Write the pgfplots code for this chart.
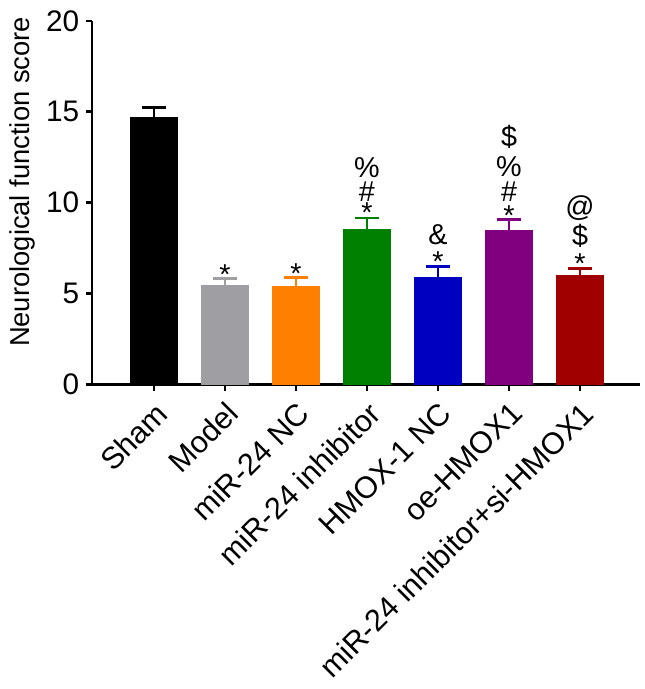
\documentclass[border=0pt]{standalone}
\usepackage{pgfplots}
\pgfplotsset{compat=1.18}
\usepackage{fontspec}
\setmainfont{Liberation Sans}
\definecolor{cgray}{RGB}{158,158,163}
\definecolor{corange}{RGB}{255,128,0}
\definecolor{cgreen}{RGB}{0,128,0}
\definecolor{cblue}{RGB}{0,0,192}
\definecolor{cpurple}{RGB}{128,0,128}
\definecolor{cred}{RGB}{160,0,0}
\pgfplotsset{mybar/.style={fill=#1, draw=#1,
  error bars/error bar style={line width=1.2pt, #1},
  error bars/error mark options={rotate=90, mark size=6pt, line width=1.3pt, #1}}}
\newcommand{\fsx}{\fontsize{15.4}{17}\selectfont}
\newcommand{\fsy}{\fontsize{15}{17}\selectfont}
\newcommand{\fsl}{\fontsize{13.8}{16}\selectfont}
\newcommand{\fsa}{\fontsize{14.5}{16}\selectfont}
\begin{document}
\begin{tikzpicture}
\begin{axis}[
  scale only axis, width=276.5pt, height=183.5pt,
  xmin=-0.87, xmax=6.85, ymin=0, ymax=20,
  axis lines=left, axis line style={line width=1.3pt, -},
  xtick={0,...,6},
  xticklabels={Sham, Model, miR-24 NC, miR-24 inhibitor, HMOX-1 NC, oe-HMOX1, miR-24 inhibitor+si-HMOX1},
  x tick label style={rotate=45, anchor=north east, font=\fsx},
  ytick={0,5,...,20},
  y tick label style={font=\fsy},
  /pgf/number format/assume math mode=true,
  tick style={line width=1.3pt, black}, tick align=outside, major tick length=3pt,
  ylabel={Neurological function score},
  ylabel style={font=\fsl, at={(axis description cs:-0.127,0.557)}, rotate=0, anchor=center},
  ybar, bar width=23.35pt, bar shift=0pt,
  clip=false,
  error bars/y dir=plus, error bars/y explicit,
]
\addplot[mybar=black] coordinates {(0,14.71) +- (0,0.54)};
\addplot[mybar=cgray] coordinates {(1,5.47) +- (0,0.36)};
\addplot[mybar=corange] coordinates {(2,5.38) +- (0,0.51)};
\addplot[mybar=cgreen] coordinates {(3,8.55) +- (0,0.60)};
\addplot[mybar=cblue] coordinates {(4,5.92) +- (0,0.56)};
\addplot[mybar=cpurple] coordinates {(5,8.48) +- (0,0.60)};
\addplot[mybar=cred] coordinates {(6,6.00) +- (0,0.38)};
\begin{scope}[every node/.style={anchor=base, font=\fsa, inner sep=0pt}]
\node at (axis cs:1,5.50) {*};
\node at (axis cs:2,5.55) {*};
\node at (axis cs:3,8.90) {*};
\node at (axis cs:3,10.08) {\#};
\node at (axis cs:3,11.38) {\%};
\node at (axis cs:4,6.22) {*};
\node at (axis cs:4,7.68) {\&};
\node at (axis cs:5,8.72) {*};
\node at (axis cs:5,10.05) {\#};
\node at (axis cs:5,11.42) {\%};
\node at (axis cs:5,13.1) {\$};
\node at (axis cs:6,6.10) {*};
\node at (axis cs:6,7.65) {\$};
\node at (axis cs:6,9.25) {@};
\end{scope}
\end{axis}
\path ([xshift=-46.5pt,yshift=-150.5pt]current axis.south west) rectangle ([xshift=2pt,yshift=10.5pt]current axis.north east);
\end{tikzpicture}
\end{document}
